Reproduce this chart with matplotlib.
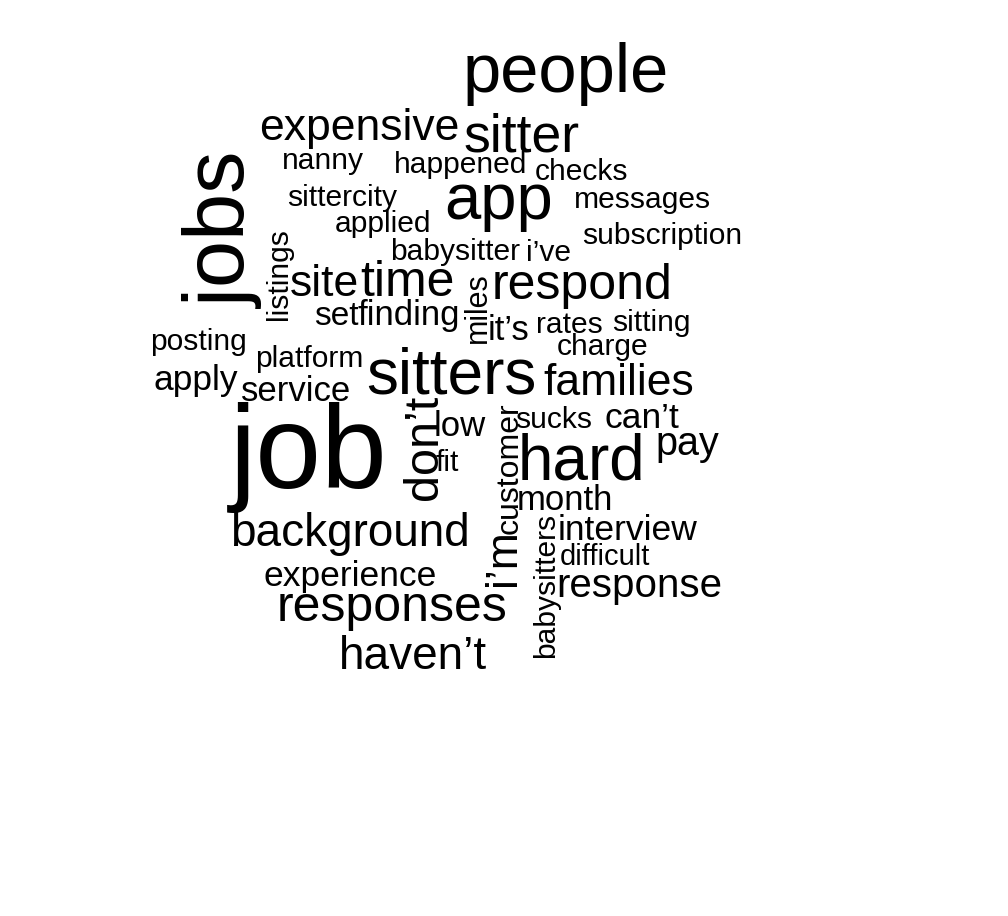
import matplotlib
matplotlib.use("Agg")
import matplotlib.pyplot as plt

# word cloud contents: word and relative weight (rendered as font size)
words = ["people", "expensive", "sitter", "nanny", "happened", "checks", "app",
         "sittercity", "messages", "applied", "subscription", "babysitter", "i’ve",
         "site", "time", "respond", "set", "finding", "it’s", "rates", "sitting",
         "posting", "charge", "platform", "sitters", "families", "apply", "service",
         "job", "low", "sucks", "can’t", "hard", "pay", "fit", "month", "background",
         "interview", "difficult", "experience", "response", "responses", "haven’t",
         "jobs", "listings", "miles", "don’t", "customer", "i’m", "babysitters"]
weights = [49.5, 32, 38.5, 21.6, 21.6, 21.6, 47,
           21.6, 21.6, 21.6, 21.6, 21.6, 21.6,
           32, 36, 36, 24, 25, 25, 21.6, 21.6,
           21.6, 21.6, 21.6, 46, 32, 25.5, 25,
           85, 25, 21.6, 25.5, 46, 28.5, 21.6, 25, 33,
           25.5, 21, 25.5, 29, 36, 33,
           61, 21.6, 22, 35, 23, 32, 21.6]

# layout (pixel position of baseline centre, rotation)
xpos = [566, 359, 522, 323, 461, 582, 499,
        342, 643, 383, 662, 455, 548,
        324, 407, 582, 336, 409, 509, 569, 651,
        198, 603, 309, 451, 619, 196, 296,
        309, 460, 554, 642, 581, 687, 447, 565, 350,
        628, 605, 350, 639, 392, 413,
        246, 287, 486, 437, 518, 515, 554]
ypos = [92, 140, 151, 169, 173, 180, 219,
        206, 208, 232, 244, 260, 261,
        296, 296, 299, 325, 325, 340, 333, 331,
        350, 355, 367, 393, 395, 390, 401,
        488, 436, 428, 428, 480, 455, 471, 510, 546,
        540, 565, 586, 597, 621, 669,
        230, 274, 308, 447, 468, 558, 585]
rot = [0] * 43 + [90] * 7

fig = plt.figure(figsize=(10.08, 9.16), dpi=100)
ax = fig.add_axes([0, 0, 1, 1])
ax.set_xlim(0, 1008)
ax.set_ylim(916, 0)
ax.axis("off")

for w, s, x, y, r in zip(words, weights, xpos, ypos, rot):
    ax.text(x, y, w, fontsize=s, rotation=r, rotation_mode="anchor",
            ha="center", va="baseline", color="black",
            family=["Liberation Sans", "DejaVu Sans"])

fig.savefig("out.png", dpi=100, facecolor="white")
